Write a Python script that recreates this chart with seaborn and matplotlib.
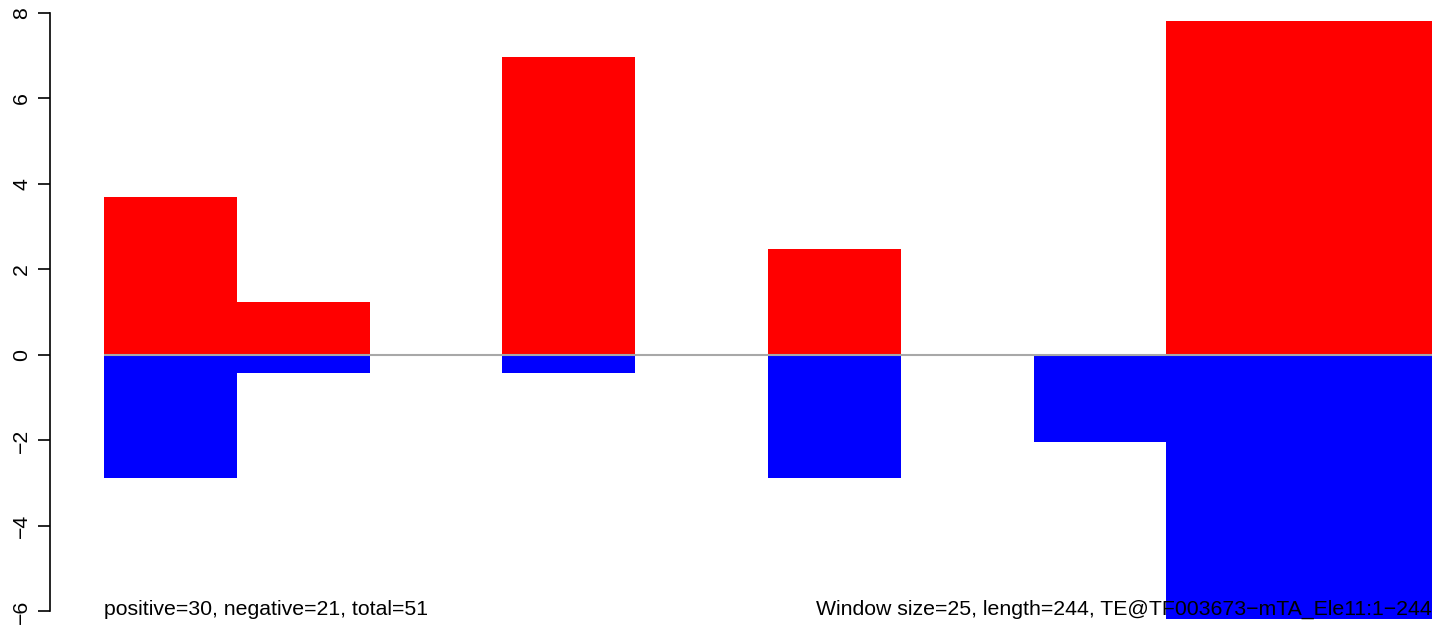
import pandas as pd
import seaborn as sns
import matplotlib.pyplot as plt

# per-window scores
windows = list(range(1, 11))
positive = [3.70, 1.24, 0, 6.97, 0, 2.48, 0, 0, 7.81, 7.81]
negative = [-2.88, -0.42, 0, -0.42, 0, -2.88, 0, -2.04, -6.18, -6.18]
y_ticks = [-6, -4, -2, 0, 2, 4, 6, 8]
left_note = "positive=30, negative=21, total=51"
right_note = "Window size=25, length=244, TE@TF003673\u2212mTA_Ele11:1\u2212244"

sns.set_style("white")
plt.rcParams['font.family'] = ['Liberation Sans', 'DejaVu Sans']
plt.rcParams['text.color'] = 'black'
plt.rcParams['ytick.color'] = 'black'

df = pd.DataFrame({
    "window": windows * 2,
    "score": positive + negative,
    "sign": ["pos"] * len(windows) + ["neg"] * len(windows),
})

W, H = 1444, 625
px = 72 / 100  # points per pixel at dpi 100
fig = plt.figure(figsize=(W / 100, H / 100), dpi=100)
ax = fig.add_axes([104 / W, (H - 620) / H, (1432 - 104) / W, 620 / H])

sns.barplot(data=df, x="window", y="score", hue="sign", dodge=False, width=1,
            palette={"pos": "#FF0000", "neg": "#0000FF"}, saturation=1,
            linewidth=0, legend=False, ax=ax)

ax.axhline(0, color="#A8A8A8", lw=1.5, zorder=5)
ax.set_xlim(-0.5, len(windows) - 0.5)
ax.set_ylim(-6.2, 8.3)

for s in ["top", "right", "bottom"]:
    ax.spines[s].set_visible(False)
ax.spines["left"].set_position(("outward", 54 * px))
ax.spines["left"].set_bounds(-6, 8)
ax.spines["left"].set_color("black")
ax.spines["left"].set_linewidth(1.2)
ax.set_yticks(y_ticks)
ax.set_yticklabels([str(t).replace("-", "\u2212") for t in y_ticks],
                   rotation=90, va="center", fontsize=15.3)
ax.tick_params(axis="y", left=True, length=12 * px, width=1.2, color="black",
               pad=7 * px, labelcolor="black")
ax.set_xticks([])
ax.set_xlabel("")
ax.set_ylabel("")

fig.text(104 / W, (H - 615) / H, left_note, ha="left", va="baseline", fontsize=15.3)
fig.text(1432 / W, (H - 615) / H, right_note, ha="right", va="baseline",
         fontsize=15.3, zorder=10)

fig.savefig("out.png", dpi=100)
